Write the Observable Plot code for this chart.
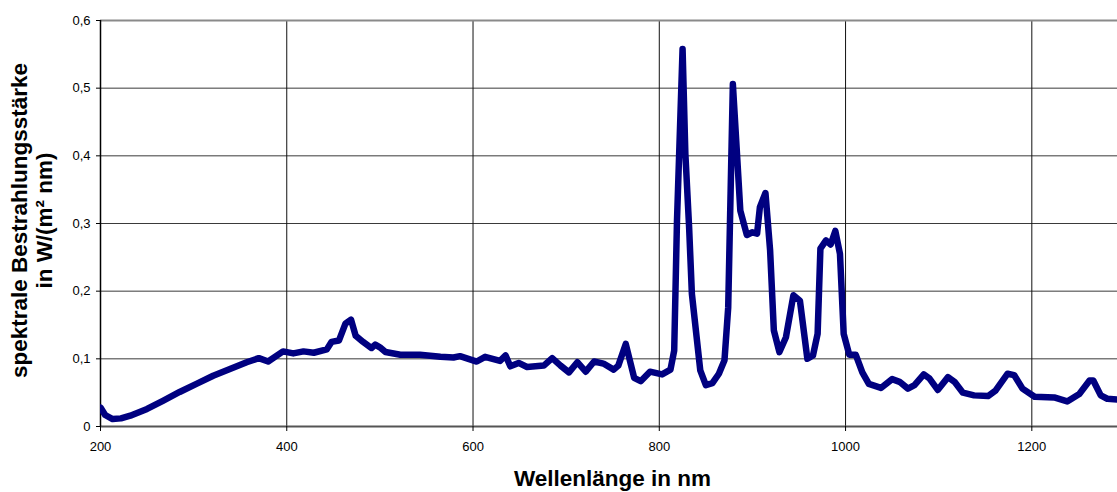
<!DOCTYPE html>
<html><head><meta charset="utf-8">
<script src="https://cdn.jsdelivr.net/npm/d3@7"></script>
<script src="https://cdn.jsdelivr.net/npm/@observablehq/plot@0.6"></script>
<style>html,body{margin:0;padding:0;background:#fff;overflow:hidden}</style>
</head><body><div id="chart"></div>
<script>
const wavelength = [200,205,213,222,232,250,267,285,303,321,339,357,370,380,396,407,418,429,443,448,456,463,469,474,482,491,495,500,506,522,543,565,579,586,595,604,613,629,635,640,649,658,676,685,694,703,712,721,730,740,751,756,764,773,780,790,803,812,816,819,825,828,832,835,844,850,857,864,870,874,879,883,887,894,900,905,908,914,919,923,929,936,944,951,959,965,970,973,979,984,989,994,998,1004,1011,1018,1025,1038,1050,1058,1067,1074,1084,1090,1099,1110,1117,1126,1138,1153,1161,1174,1181,1190,1203,1224,1238,1251,1262,1266,1274,1281,1292];
const irradiance = [0.028,0.017,0.011,0.012,0.016,0.026,0.038,0.051,0.063,0.075,0.085,0.095,0.101,0.096,0.111,0.108,0.111,0.109,0.114,0.125,0.127,0.152,0.158,0.134,0.125,0.116,0.121,0.117,0.110,0.106,0.106,0.103,0.102,0.104,0.100,0.096,0.103,0.097,0.105,0.089,0.094,0.088,0.090,0.101,0.090,0.080,0.095,0.081,0.096,0.093,0.084,0.090,0.122,0.072,0.067,0.081,0.077,0.084,0.112,0.304,0.558,0.403,0.295,0.196,0.083,0.061,0.064,0.078,0.098,0.176,0.506,0.413,0.319,0.283,0.287,0.285,0.324,0.345,0.260,0.142,0.110,0.132,0.194,0.186,0.100,0.105,0.137,0.263,0.275,0.269,0.289,0.255,0.137,0.106,0.106,0.080,0.063,0.057,0.070,0.066,0.056,0.061,0.077,0.071,0.054,0.073,0.066,0.050,0.046,0.045,0.053,0.078,0.076,0.056,0.044,0.043,0.037,0.048,0.068,0.068,0.046,0.041,0.040];
const xTicks = [200,400,600,800,1000,1200];
const yTicks = [0,0.1,0.2,0.3,0.4,0.5,0.6];
const xTitle = "Wellenlänge in nm";
const yTitle1 = "spektrale Bestrahlungsstärke";
const yTitle2 = "in W/(m² nm)";

const data = wavelength.map((w, i) => ({w, v: irradiance[i]}));
const font = '"Liberation Sans", Arial, Helvetica, sans-serif';

const chart = Plot.plot({
  width: 1117, height: 492,
  marginTop: 20, marginBottom: 66, marginLeft: 100, marginRight: 0,
  style: {fontFamily: font, fontSize: "13px", background: "#fff", color: "#000", overflow: "visible"},
  x: {domain: [200, 1292]},
  y: {domain: [0, 0.6]},
  marks: [
    Plot.ruleY(yTicks.slice(1, -1), {stroke: "#3a3a3a", strokeWidth: 1}),
    Plot.ruleX(xTicks.slice(1), {stroke: "#111", strokeWidth: 1}),
    Plot.ruleY([0.6], {stroke: "#8a8a8a", strokeWidth: 2}),
    Plot.ruleY([0], {stroke: "#555", strokeWidth: 2}),
    Plot.ruleX([200], {stroke: "#000", strokeWidth: 1.5}),
    Plot.line(data, {x: "w", y: "v", stroke: "#000080", strokeWidth: 6.5, strokeLinejoin: "round", strokeLinecap: "round", clip: true}),
    Plot.axisX({ticks: xTicks, tickSize: 5, tickPadding: 10, tickFormat: d => String(d), label: null}),
    Plot.axisY({ticks: yTicks, tickSize: 4, tickPadding: 6, tickFormat: d => String(d).replace(".", ","), label: null}),
    Plot.text([xTitle], {text: d => d, frameAnchor: "bottom", textAnchor: "middle", dx: 3.5, dy: 59, lineAnchor: "bottom", fontWeight: "bold", fontSize: 22.5}),
    Plot.text([yTitle1], {text: d => d, frameAnchor: "left", textAnchor: "middle", rotate: -90, dx: -74, dy: -3, lineAnchor: "bottom", fontWeight: "bold", fontSize: 22.5}),
    Plot.text([yTitle2], {text: d => d, frameAnchor: "left", textAnchor: "middle", rotate: -90, dx: -49, dy: -3, lineAnchor: "bottom", fontWeight: "bold", fontSize: 22.5})
  ]
});
document.getElementById("chart").appendChild(chart);
</script>
</body></html>
